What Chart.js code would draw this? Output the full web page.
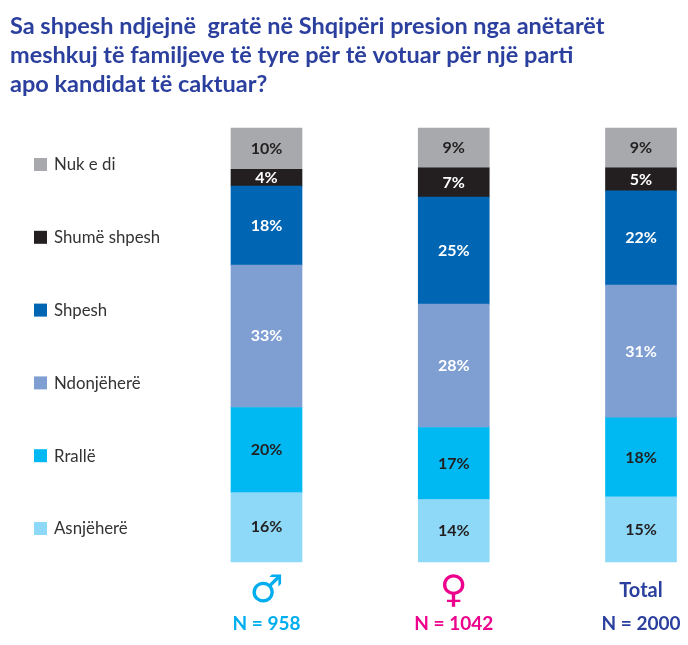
<!DOCTYPE html>
<html>
<head>
<meta charset="utf-8">
<script src="https://cdn.jsdelivr.net/npm/chart.js@4"></script>
<style>
  html, body { margin: 0; padding: 0; background: #fff; overflow: hidden; }
  canvas { display: block; }
</style>
</head>
<body>
<canvas id="chart" width="688" height="645"></canvas>
<script>
const titleLines = ['Sa shpesh ndjejnë  gratë në Shqipëri presion nga anëtarët', 'meshkuj të familjeve të tyre për të votuar për një parti', 'apo kandidat të caktuar?'];
const groupLabels = ['♂', '♀', 'Total'];
const countLabels = ['N = 958', 'N = 1042', 'N = 2000'];
const groupColors = ['#00aeef', '#ec008c', '#2b3f9e'];

// values, the printed labels are these rounded
const asnjehere = [16.0, 14.4, 15.0];
const ralle = [19.6, 16.6, 18.2];
const ndonjehere = [32.8, 28.4, 30.6];
const shpesh = [18.2, 24.7, 21.7];
const shumeShpesh = [3.9, 6.7, 5.3];
const nukEDi = [9.5, 9.2, 9.2];

const FONT = 'Lato, Carlito, sans-serif';

const series = [
  { label: 'Asnjëherë', data: asnjehere, color: '#8ed8f8', text: '#231f20' },
  { label: 'Rrallë', data: ralle, color: '#00b9f2', text: '#231f20' },
  { label: 'Ndonjëherë', data: ndonjehere, color: '#7f9fd3', text: '#ffffff' },
  { label: 'Shpesh', data: shpesh, color: '#0066b3', text: '#ffffff' },
  { label: 'Shumë shpesh', data: shumeShpesh, color: '#231f20', text: '#ffffff' },
  { label: 'Nuk e di', data: nukEDi, color: '#a7a9ac', text: '#231f20' },
];

// percent labels in the middle of each segment
const segmentLabels = {
  id: 'segmentLabels',
  afterDatasetsDraw(chart) {
    const ctx = chart.ctx;
    ctx.save();
    ctx.font = 'bold 16px ' + FONT;
    ctx.textAlign = 'center';
    ctx.textBaseline = 'middle';
    chart.data.datasets.forEach((ds, i) => {
      chart.getDatasetMeta(i).data.forEach((bar, j) => {
        const c = bar.getCenterPoint();
        ctx.fillStyle = series[i].text;
        ctx.fillText(Math.round(ds.data[j]) + '%', c.x, c.y);
      });
    });
    ctx.restore();
  }
};

// legend column on the left, rows are spaced wider than the native legend allows
const sideLegend = {
  id: 'sideLegend',
  afterDraw(chart) {
    const ctx = chart.ctx;
    ctx.save();
    ctx.font = '16.8px ' + FONT;
    ctx.textBaseline = 'middle';
    series.slice().reverse().forEach((s, i) => {
      const y = 164 + i * 72.8;
      ctx.fillStyle = s.color;
      ctx.fillRect(34, y - 6, 13, 13);
      ctx.fillStyle = '#333333';
      ctx.fillText(s.label, 54, y + 1);
    });
    ctx.restore();
  }
};

new Chart(document.getElementById('chart'), {
  type: 'bar',
  data: {
    labels: groupLabels,
    datasets: series.map(s => ({
      label: s.label,
      data: s.data,
      backgroundColor: s.color,
      barThickness: 71,
      clip: false,
    })),
  },
  plugins: [segmentLabels, sideLegend],
  options: {
    responsive: false,
    animation: false,
    layout: { padding: { left: 10, right: 47, top: 12, bottom: 9.6 } },
    plugins: {
      legend: { display: false },
      tooltip: { enabled: false },
      title: {
        display: true,
        text: titleLines,
        align: 'start',
        color: '#2b3f9e',
        font: { family: FONT, size: 23.5, weight: 'bold', lineHeight: 1.234 },
        padding: { top: 0, bottom: 29 },
      },
    },
    scales: {
      x: {
        stacked: true,
        offset: false,
        weight: 0,
        grid: { display: false, offset: false, drawTicks: false },
        border: { display: false },
        ticks: {
          autoSkip: false,
          maxRotation: 0,
          padding: 14.4,
          color: ctx => groupColors[ctx.index],
          font: ctx => ctx.index === 2
            ? { family: FONT, size: 20, weight: 'bold', lineHeight: 1.46 }
            : { family: 'DejaVu Sans', size: 38, lineHeight: 0.82 },
        },
        // the axis asks for too much room, keep the count row close under it
        afterFit(scale) { scale.height = 50.6; },
      },
      n: {
        type: 'category',
        position: 'bottom',
        labels: countLabels,
        offset: false,
        weight: 1,
        grid: { display: false, offset: false, drawTicks: false },
        border: { display: false },
        ticks: {
          autoSkip: false,
          maxRotation: 0,
          padding: 0,
          color: ctx => groupColors[ctx.index],
          font: { family: FONT, size: 19, weight: 'bold' },
        },
      },
      y: {
        stacked: true,
        min: 0,
        max: 100,
        grid: { display: false, drawTicks: false },
        border: { display: false },
        ticks: { display: false },
        afterFit(scale) { scale.width = 256.5; },
      },
    },
  },
});
</script>
</body>
</html>
